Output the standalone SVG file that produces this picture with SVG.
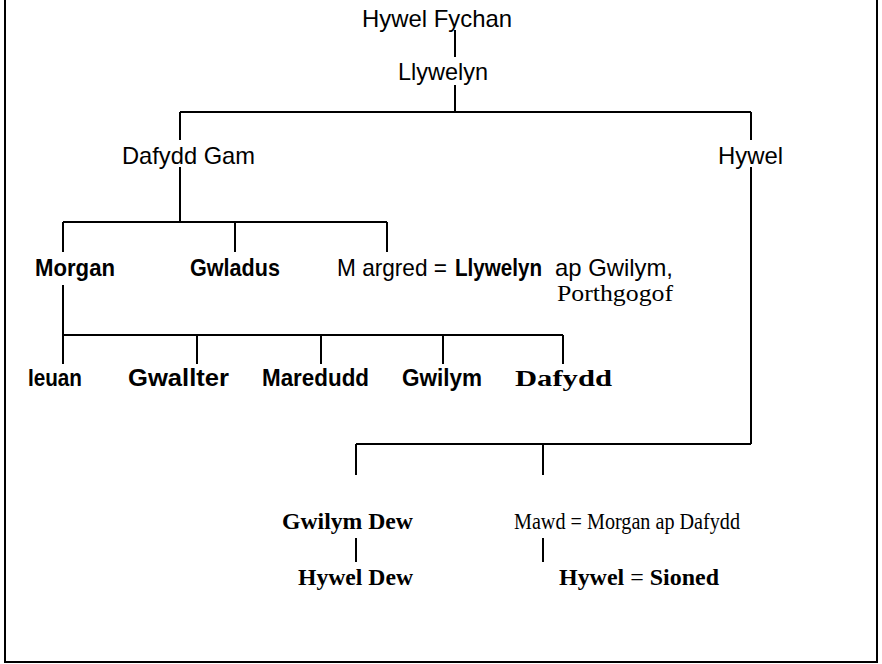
<svg xmlns="http://www.w3.org/2000/svg" width="882" height="664" viewBox="0 0 882 664">
<style>
.s{font-family:"Liberation Sans",Arial,sans-serif;font-size:24px;fill:#000}
.b{font-weight:bold}
.r{font-family:"Liberation Serif","Times New Roman",serif;font-size:24px;fill:#000}
.ln{stroke:#000;stroke-width:2;fill:none}
</style>
<rect x="0" y="0" width="882" height="664" fill="#fff"/>
<path class="ln" d="M5,-2 V662 H877 V-2" stroke-width="3"/>
<g id="connectors">
<path class="ln" d="M455,30 V57 M455,85 V112 M180,112 H751 M180,112 V140 M751,112 V140 M180,167 V222 M751,167 V444"/>
<path class="ln" d="M63,222 H387 M63,222 V252 M235,222 V252 M387,222 V252"/>
<path class="ln" d="M63,285 V335 M63,335 H563 M63,335 V364 M197,335 V364 M321,335 V364 M443,335 V364 M563,335 V364"/>
<path class="ln" d="M356,444 H751 M356,444 V475 M543,444 V475 M356,538 V562 M543,538 V562"/>
</g>
<g id="hywel-fychan"><text class="s" x="362" y="27" textLength="150" lengthAdjust="spacingAndGlyphs">Hywel Fychan</text></g>
<g id="llywelyn"><text class="s" x="398" y="80" textLength="90" lengthAdjust="spacingAndGlyphs">Llywelyn</text></g>
<g id="dafydd-gam"><text class="s" x="122" y="164" textLength="133" lengthAdjust="spacingAndGlyphs">Dafydd Gam</text></g>
<g id="hywel"><text class="s" x="718" y="164" textLength="65" lengthAdjust="spacingAndGlyphs">Hywel</text></g>
<g id="morgan"><text class="s b" x="35" y="276" textLength="80" lengthAdjust="spacingAndGlyphs">Morgan</text></g>
<g id="gwladus"><text class="s b" x="190" y="276" textLength="90" lengthAdjust="spacingAndGlyphs">Gwladus</text></g>
<g id="margred">
<text class="s" x="337" y="276" textLength="110" lengthAdjust="spacingAndGlyphs">M argred =</text>
<text class="s b" x="455" y="276" textLength="87" lengthAdjust="spacingAndGlyphs">Llywelyn</text>
<text class="s" x="555" y="276" textLength="118" lengthAdjust="spacingAndGlyphs">ap Gwilym,</text>
<text class="r" x="557" y="301" textLength="116" lengthAdjust="spacingAndGlyphs">Porthgogof</text>
</g>
<g id="ieuan"><text class="s b" x="28" y="386" textLength="54" lengthAdjust="spacingAndGlyphs">Ieuan</text></g>
<g id="gwallter"><text class="s b" x="128" y="386" textLength="101" lengthAdjust="spacingAndGlyphs">Gwallter</text></g>
<g id="maredudd"><text class="s b" x="262" y="386" textLength="107" lengthAdjust="spacingAndGlyphs">Maredudd</text></g>
<g id="gwilym"><text class="s b" x="402" y="386" textLength="80" lengthAdjust="spacingAndGlyphs">Gwilym</text></g>
<g id="dafydd"><text class="r b" x="515" y="386" textLength="97" lengthAdjust="spacingAndGlyphs">Dafydd</text></g>
<g id="gwilym-dew"><text class="r b" x="282" y="529" textLength="131" lengthAdjust="spacingAndGlyphs">Gwilym Dew</text></g>
<g id="mawd"><text class="r" x="514" y="529" textLength="226" lengthAdjust="spacingAndGlyphs">Mawd = Morgan ap Dafydd</text></g>
<g id="hywel-dew"><text class="r b" x="298" y="585" textLength="115" lengthAdjust="spacingAndGlyphs">Hywel Dew</text></g>
<g id="hywel-sioned"><text class="r b" x="559" y="585" textLength="160" lengthAdjust="spacingAndGlyphs">Hywel <tspan font-weight="normal">=</tspan> Sioned</text></g>
</svg>
